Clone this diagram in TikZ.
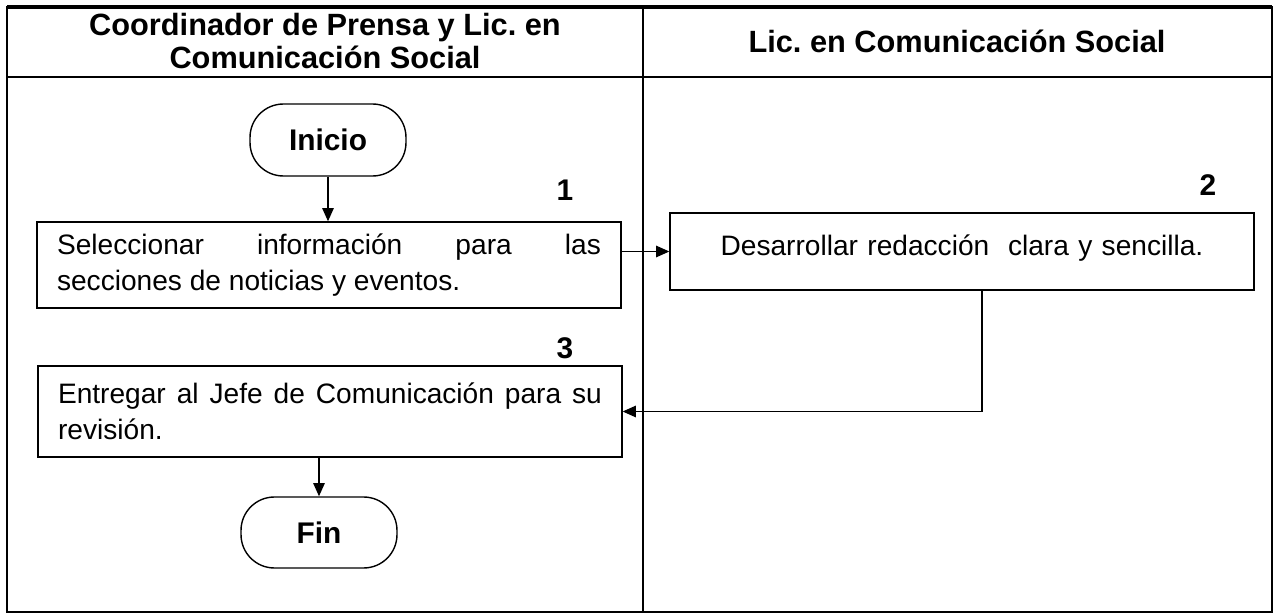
\documentclass[tikz,border=0pt]{standalone}
\usepackage{fontspec}
\setmainfont{Liberation Sans}
\usetikzlibrary{arrows.meta}
\frenchspacing

\begin{document}
\begin{tikzpicture}[x=0.02cm, y=-0.02cm, ->, >={Triangle[length=7.5pt,width=6.5pt]}, line width=0.8pt,
    paso/.style={draw, align=justify, text width=10.88cm, inner xsep=0.4cm, minimum width=11.68cm, font=\fontsize{16}{20.5}\selectfont},
    termino/.style={draw, rounded corners=19pt, minimum width=3.12cm, minimum height=1.44cm, font=\bfseries\fontsize{17}{20}\selectfont},
    num/.style={font=\bfseries\fontsize{17}{20}\selectfont},
    titulo/.style={align=center, font=\bfseries\fontsize{17.5}{19}\selectfont}]
    \useasboundingbox (0,0) rectangle (1276,615);
    % tabla
    \draw[-, line width=1.1pt] (7,7) rectangle (1272,612);
    \draw[-, line width=2pt] (7,7) -- (1272,7);
    \draw[-, line width=1.6pt] (7,77) -- (1272,77);
    \draw[-, line width=1pt] (643,7) -- (643,612);
    \node[titulo] (encA) at (325,41) {Coordinador de Prensa y Lic. en\\Comunicación Social};
    \node[titulo] (encB) at (957,41) {Lic. en Comunicación Social};
    % pasos
    \node[termino] (inicio) at (328,140) {Inicio};
    \node[paso, minimum height=1.72cm] (sel) at (329,265) {Seleccionar información para las\linebreak secciones de noticias y eventos.};
    \node[paso, align=center, minimum height=1.54cm, text height=12pt, text depth=7.4pt] (des) at (962,251.5) {Desarrollar redacción~ clara y sencilla.};
    \node[paso, minimum height=1.82cm] (ent) at (330,411.5) {Entregar al Jefe de Comunicación para su\linebreak revisión.};
    \node[termino, minimum height=1.42cm] (fin) at (319,532.5) {Fin};
    \node[num] (n1) at (565,190) {1};
    \node[num] (n2) at (1208,185) {2};
    \node[num] (n3) at (565,348) {3};
    \path
    (inicio) edge (inicio |- sel.north)
    (sel.east |- des.west) edge (des.west)
    (ent.south -| fin) edge (fin);
    \draw ([xshift=0.4cm]des.south) |- (ent.east);
\end{tikzpicture}
\end{document}
